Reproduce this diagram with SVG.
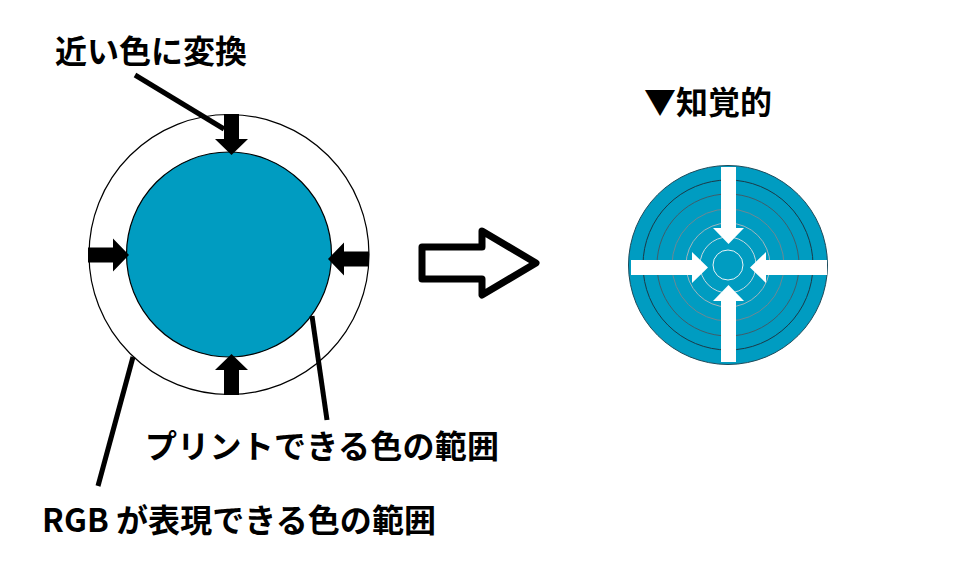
<svg xmlns="http://www.w3.org/2000/svg" width="962" height="568" viewBox="0 0 962 568">
<style>
.t{font-family:"Noto Sans CJK JP","Noto Sans",sans-serif;font-weight:bold;font-size:32px;fill:#000}
.lead{stroke:#000;stroke-width:5;fill:none}
.blue{fill:#009cc1}
.ring{fill:none;stroke-width:1}
</style>
<defs>
<path id="barr" d="M-7.5,0 V25 H-16.5 L0,41 L16.5,25 H7.5 V0 Z" fill="#000"/>
<path id="warr" d="M-7.5,0 V61 H-15.5 L0,77 L15.5,61 H7.5 V0 Z" fill="#fff"/>
</defs>
<rect width="962" height="568" fill="#fff"/>

<g id="rgb-gamut">
<circle cx="229" cy="254.5" r="140" fill="#fff" stroke="#000" stroke-width="1.2"/>
</g>
<g id="print-gamut">
<circle cx="229" cy="254.5" r="102.5" class="blue" stroke="#000" stroke-width="1.2"/>
</g>
<g id="black-arrows">
<use href="#barr" transform="translate(231.5,114)"/>
<use href="#barr" transform="translate(231.5,395) rotate(180)"/>
<use href="#barr" transform="translate(88,255) rotate(-90)"/>
<use href="#barr" transform="translate(369,259) rotate(90)"/>
</g>

<g id="hollow-arrow">
<path d="M422,247 H482 V231 L536,263 L482,295 V279 H422 Z" fill="#fff" stroke="#000" stroke-width="7" stroke-linejoin="round"/>
</g>

<g id="perceptual">
<circle cx="728" cy="265" r="99.5" class="blue" stroke="#1d4a5a" stroke-width="1"/>
<circle cx="728" cy="265" r="85" class="ring" stroke="#1b3a48"/>
<circle cx="728" cy="265" r="71" class="ring" stroke="#3f5d6a"/>
<circle cx="728" cy="265" r="56" class="ring" stroke="#6d8893"/>
<circle cx="728" cy="265" r="42" class="ring" stroke="#9fb5bd"/>
<circle cx="728" cy="265" r="28" class="ring" stroke="#c6d8de"/>
<circle cx="728" cy="265" r="15" class="ring" stroke="#e8f2f5"/>
<use href="#warr" transform="translate(728.5,167)"/>
<use href="#warr" transform="translate(728.5,362) rotate(180)"/>
<use href="#warr" transform="translate(631,267.5) rotate(-90)"/>
<use href="#warr" transform="translate(827,267.5) rotate(90)"/>
</g>

<g id="connectors">
<line class="lead" x1="135" y1="75" x2="224" y2="129"/>
<line class="lead" x1="133" y1="357" x2="98" y2="486"/>
<line class="lead" x1="312" y1="316" x2="327" y2="420"/>
</g>

<g id="label-convert"><text class="t" x="55" y="63">近い色に変換</text></g>
<g id="label-perceptual"><text class="t" x="644" y="114">▼知覚的</text></g>
<g id="label-print"><text class="t" x="145" y="458" textLength="354" lengthAdjust="spacing">プリントできる色の範囲</text></g>
<g id="label-rgb"><text class="t" x="42" y="532" textLength="394" lengthAdjust="spacing">RGB が表現できる色の範囲</text></g>
</svg>
